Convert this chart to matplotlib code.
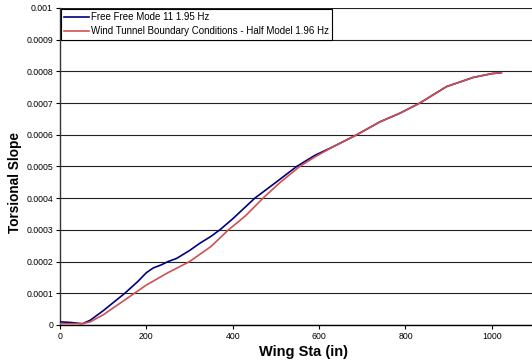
import matplotlib
matplotlib.use("Agg")
import matplotlib.pyplot as plt
from matplotlib.ticker import FixedLocator

plt.rcParams['font.family'] = ['Liberation Sans', 'DejaVu Sans']

# Free-free mode 11 torsional slope along the wing
sta_free = [0, 25, 52, 70, 100, 150, 180, 200, 216, 235, 250, 270, 300, 324,
            350, 370, 400, 451, 500, 548, 590, 632, 687, 741, 787, 833, 895,
            957, 1000, 1022]
slope_free = [1.0e-5, 8e-6, 4e-6, 1.5e-5, 4.5e-5, 1.0e-4, 1.37e-4, 1.65e-4,
              1.8e-4, 1.9e-4, 2.0e-4, 2.1e-4, 2.35e-4, 2.58e-4, 2.8e-4, 3.0e-4,
              3.35e-4, 4.0e-4, 4.5e-4, 5.0e-4, 5.35e-4, 5.62e-4, 6.0e-4,
              6.41e-4, 6.68e-4, 7.0e-4, 7.52e-4, 7.81e-4, 7.93e-4, 7.96e-4]

# Wind tunnel boundary conditions, half model
sta_wt = [0, 52, 70, 100, 150, 200, 250, 300, 350, 390, 430, 470, 510, 555,
          590, 632, 687, 741, 787, 833, 895, 957, 1000, 1022]
slope_wt = [4e-6, 4e-6, 1.0e-5, 3.2e-5, 7.9e-5, 1.26e-4, 1.65e-4, 2.0e-4,
            2.48e-4, 3.0e-4, 3.45e-4, 4.0e-4, 4.5e-4, 5.0e-4, 5.3e-4, 5.62e-4,
            6.0e-4, 6.41e-4, 6.68e-4, 7.0e-4, 7.52e-4, 7.81e-4, 7.93e-4,
            7.96e-4]

x_ticks = [0, 200, 400, 600, 800, 1000]
y_ticks = [0, 0.0001, 0.0002, 0.0003, 0.0004, 0.0005, 0.0006, 0.0007,
           0.0008, 0.0009, 0.001]
y_labels = ['0', '0.0001', '0.0002', '0.0003', '0.0004', '0.0005', '0.0006',
            '0.0007', '0.0008', '0.0009', '0.001']

fig = plt.figure(figsize=(5.32, 3.61), dpi=100)
ax = fig.add_axes([60 / 532, 36 / 361, 472 / 532, 317 / 361])

ax.plot(sta_free, slope_free, color='#000080', lw=1.2,
        label='Free Free Mode 11 1.95 Hz', zorder=3)
ax.plot(sta_wt, slope_wt, color='#d05050', lw=1.2,
        label='Wind Tunnel Boundary Conditions - Half Model 1.96 Hz', zorder=4)

ax.set_xlim(0, 1093)
ax.set_ylim(0, 0.001)
ax.xaxis.set_major_locator(FixedLocator(x_ticks))
ax.set_yticks(y_ticks)
ax.set_yticklabels(y_labels)
ax.tick_params(axis='both', labelsize=6.3, length=3, width=0.8, direction='out', pad=2)

ax.grid(axis='y', color='#222222', lw=0.8)
ax.set_axisbelow(True)
for side in ['top', 'right']:
    ax.spines[side].set_visible(False)
ax.spines['left'].set_color('#333333')
ax.spines['left'].set_linewidth(1.0)
ax.spines['bottom'].set_linewidth(1.0)

ax.set_xlabel('Wing Sta (in)', fontsize=10.5, fontweight='bold')
ax.set_ylabel('Torsional Slope', fontsize=9.8, fontweight='bold')
ax.xaxis.set_label_coords(0.515, -0.063)
ax.yaxis.set_label_coords(-0.081, 0.451)

leg = ax.legend(loc='upper left', fontsize=7, frameon=True, fancybox=False,
                borderaxespad=0.1, handlelength=2.5, handletextpad=0.2,
                borderpad=0.35, labelspacing=0.4)
leg.get_frame().set_edgecolor('black')
leg.get_frame().set_linewidth(0.8)
leg.get_frame().set_alpha(1)

fig.savefig('out.png', dpi=100)
